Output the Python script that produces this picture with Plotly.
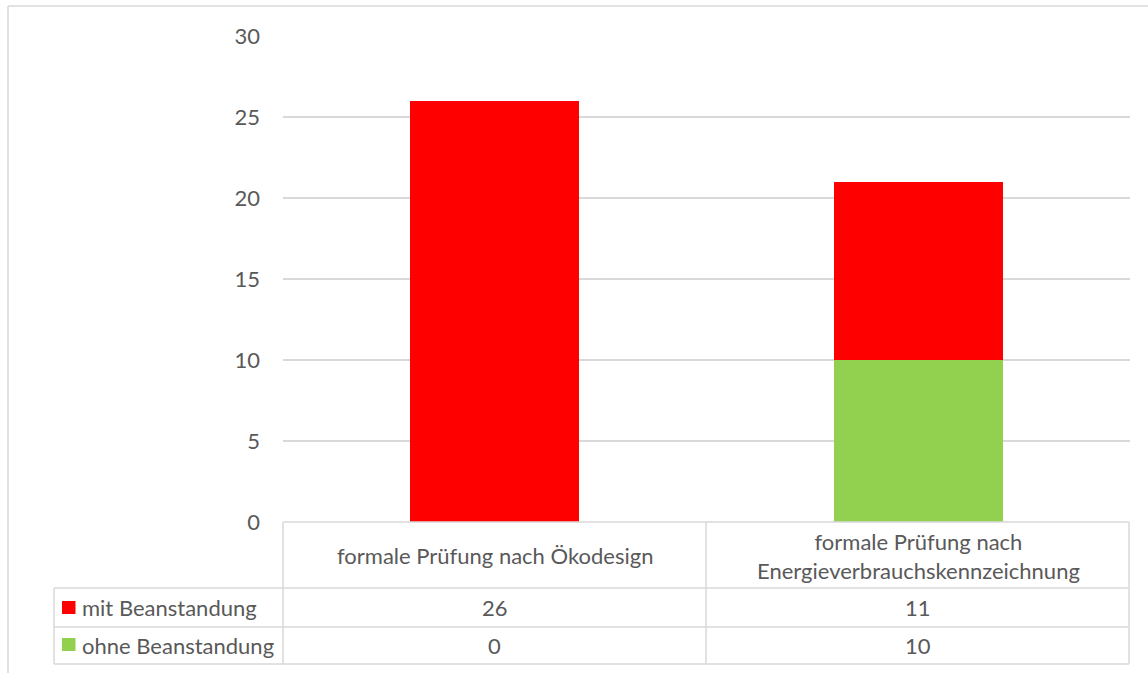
import plotly.graph_objects as go

categories = ["formale Prüfung nach Ökodesign", "formale Prüfung nach<br>Energieverbrauchskennzeichnung"]
series_names = ["mit Beanstandung", "ohne Beanstandung"]
mit_values = [26, 11]
ohne_values = [0, 10]
y_ticks = [0, 5, 10, 15, 20, 25, 30]

RED = "#FF0000"
GREEN = "#92D050"
GRID = "#D9D9D9"
TXT = "#595959"
FONT = "Lato"
FS = 22

W, H = 1148, 673
L, R, T, B = 283, 1130, 36, 522


def xp(px):
    return (px - L) / (R - L)


def yp(py):
    return (B - py) / (B - T)


fig = go.Figure()
fig.add_trace(go.Bar(x=categories, y=ohne_values, name=series_names[1],
                     marker=dict(color=GREEN, line=dict(width=0)), width=0.4))
fig.add_trace(go.Bar(x=categories, y=mit_values, name=series_names[0],
                     marker=dict(color=RED, line=dict(width=0)), width=0.4))

shapes = []


def line(x0, y0, x1, y1, color=GRID, w=1.5):
    shapes.append(dict(type="line", xref="paper", yref="paper",
                       x0=xp(x0), y0=yp(y0), x1=xp(x1), y1=yp(y1),
                       line=dict(color=color, width=w)))


# outer chart border
line(8, 6, 1160, 6, w=1.5)
line(8, 6, 8, 690, w=1.5)

# data table grid
line(283, 522, 1129, 522)
for yy in (588, 627, 664):
    line(54, yy, 1129, yy)
for xx in (283, 706, 1129):
    line(xx, 522, xx, 664)
line(54, 588, 54, 664)

# legend keys
for color, (y0, y1) in zip([RED, GREEN], [(601, 614), (638, 651)]):
    shapes.append(dict(type="rect", xref="paper", yref="paper",
                       x0=xp(62), x1=xp(75.5), y0=yp(y1), y1=yp(y0),
                       fillcolor=color, line=dict(width=0)))

annotations = []
for i, cat in enumerate(categories):
    annotations.append(dict(x=cat, xref="x", y=yp(555.5), yref="paper",
                            text=cat, showarrow=False, align="center",
                            font=dict(family=FONT, size=FS, color=TXT),
                            xanchor="center", yanchor="middle"))
    annotations.append(dict(x=cat, xref="x", y=yp(607.5), yref="paper",
                            text=str(mit_values[i]), showarrow=False,
                            font=dict(family=FONT, size=FS, color=TXT),
                            xanchor="center", yanchor="middle"))
    annotations.append(dict(x=cat, xref="x", y=yp(645.5), yref="paper",
                            text=str(ohne_values[i]), showarrow=False,
                            font=dict(family=FONT, size=FS, color=TXT),
                            xanchor="center", yanchor="middle"))

for name, yy in zip(series_names, [607.5, 645.5]):
    annotations.append(dict(x=xp(80), xref="paper", y=yp(yy), yref="paper",
                            text=name, showarrow=False,
                            font=dict(family=FONT, size=FS, color=TXT),
                            xanchor="left", yanchor="middle"))

fig.update_layout(
    width=W, height=H,
    margin=dict(l=L, r=W - R, t=T, b=H - B, pad=0),
    paper_bgcolor="white", plot_bgcolor="white",
    barmode="stack", showlegend=False,
    font=dict(family=FONT, size=FS, color=TXT),
    xaxis=dict(type="category", range=[-0.5, 1.5], showticklabels=False,
               showgrid=False, zeroline=False, showline=False, fixedrange=True),
    yaxis=dict(range=[0, 30], tickvals=y_ticks, showgrid=True, gridcolor=GRID,
               gridwidth=1.5, zeroline=False, showline=False,
               ticklabelstandoff=22,
               tickfont=dict(family=FONT, size=FS, color=TXT)),
    shapes=shapes, annotations=annotations,
)

fig.write_html("out.html")
